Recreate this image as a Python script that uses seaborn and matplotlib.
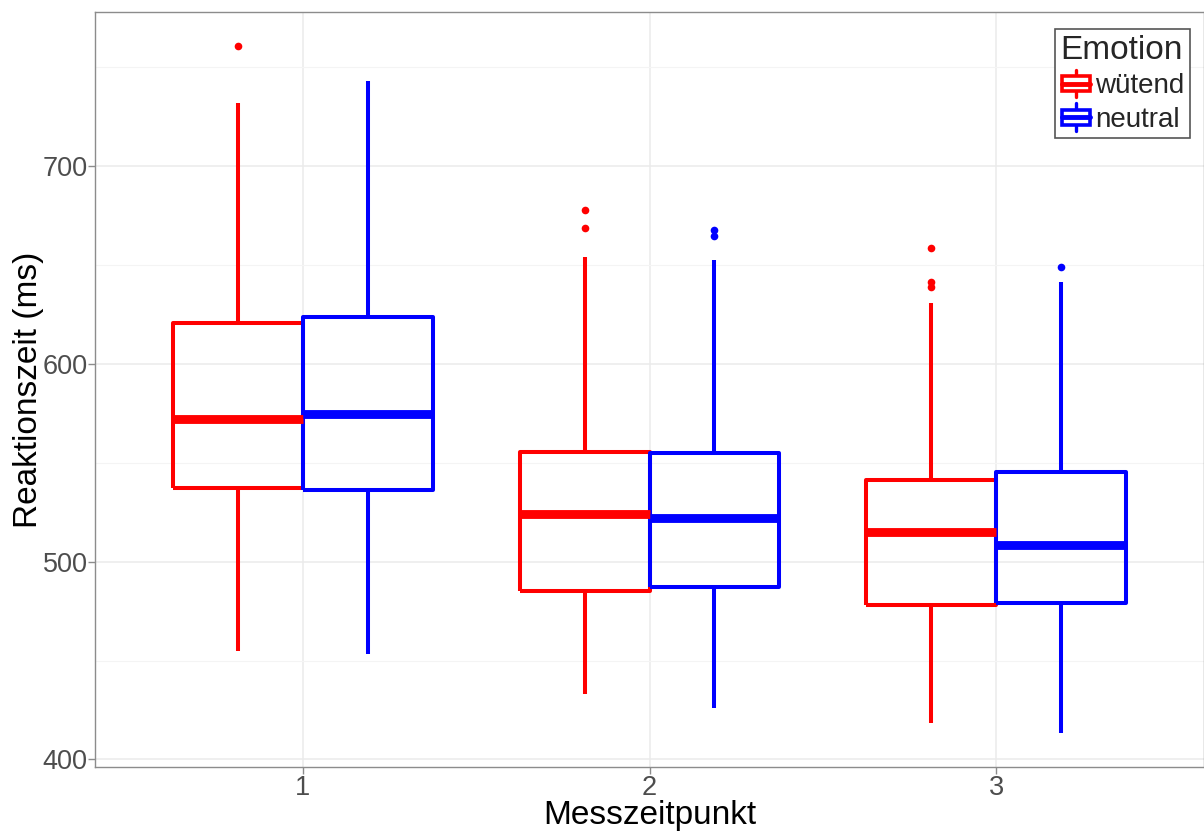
import numpy as np
import pandas as pd
import matplotlib
matplotlib.use("Agg")
import matplotlib.pyplot as plt
from matplotlib.lines import Line2D
from matplotlib.patches import Rectangle
from matplotlib.legend_handler import HandlerBase
import seaborn as sns

# ---- data (box-plot summaries, ms) ----
zeitpunkte = ["1", "2", "3"]
emotionen = ["wütend", "neutral"]

wuetend_lo = [454.7, 433.1, 418.6]
wuetend_q1 = [537.0, 485.3, 477.8]
wuetend_med = [572.1, 523.9, 514.9]
wuetend_q3 = [620.3, 555.5, 541.0]
wuetend_hi = [731.7, 653.9, 630.8]
wuetend_out = [[760.3], [668.4, 677.5], [638.8, 641.3, 658.4]]

neutral_lo = [453.2, 426.1, 413.5]
neutral_q1 = [536.0, 487.3, 478.8]
neutral_med = [574.6, 521.9, 508.4]
neutral_q3 = [623.3, 555.0, 545.0]
neutral_hi = [742.7, 652.4, 641.3]
neutral_out = [[], [664.4, 667.4], [648.9]]

farben = {"wütend": "#FF0000", "neutral": "#0000FF"}


def sample_from_summary(lo, q1, med, q3, hi, outs, k=5):
    """Observations whose linear-interpolated quartiles equal the summary."""
    m = len(outs)
    return [lo] * (1 + m) + [q1] * k + [med] + [q3] * k + [hi] + list(outs)


rows = []
summaries = {
    "wütend": (wuetend_lo, wuetend_q1, wuetend_med, wuetend_q3, wuetend_hi, wuetend_out),
    "neutral": (neutral_lo, neutral_q1, neutral_med, neutral_q3, neutral_hi, neutral_out),
}
for emo in emotionen:
    lo, q1, med, q3, hi, outs = summaries[emo]
    for i, zp in enumerate(zeitpunkte):
        for v in sample_from_summary(lo[i], q1[i], med[i], q3[i], hi[i], outs[i]):
            rows.append({"Messzeitpunkt": zp, "Emotion": emo, "RT": v})
df = pd.DataFrame(rows)

# ---- figure ----
sns.set_style("white")
plt.rcParams["font.family"] = ["Liberation Sans", "DejaVu Sans"]

fig = plt.figure(figsize=(12.04, 8.32), dpi=100)
ax = fig.add_axes([95 / 1204, 1 - 767 / 832, 1 - 95 / 1204, (767 - 12) / 832])

lw = 2.9
sns.boxplot(
    data=df, x="Messzeitpunkt", y="RT", hue="Emotion",
    order=zeitpunkte, hue_order=emotionen, palette=farben,
    fill=False, width=0.75, gap=0, linewidth=lw, showcaps=False,
    medianprops=dict(linewidth=lw * 2.2),
    flierprops=dict(marker="o", markersize=4.5),
    legend=False, ax=ax, zorder=3,
)
for ln in ax.lines:
    if ln.get_marker() == "o":
        ln.set_markerfacecolor(ln.get_markeredgecolor())
        ln.set_markeredgewidth(0)
        ln.set_markersize(5.5)
    ln.set_solid_capstyle("butt")
for p in ax.patches:
    p.set_joinstyle("round")

ax.set_xlim(-0.6, 2.6)
ax.set_ylim(396.2, 777.6)
ax.set_yticks([400, 500, 600, 700])
ax.set_yticks([450, 550, 650, 750], minor=True)
ax.grid(True, which="major", color="#EBEBEB", linewidth=1.1, zorder=0)
ax.grid(True, which="minor", axis="y", color="#F4F4F4", linewidth=0.8, zorder=0)
ax.set_axisbelow(True)

for s in ax.spines.values():
    s.set_color("#8C8C8C")
    s.set_linewidth(1.0)

ax.tick_params(axis="both", which="major", length=5, width=1, color="#8C8C8C",
               labelsize=19.5, labelcolor="#4D4D4D", pad=0.8, left=True, bottom=True)
ax.tick_params(axis="y", which="major", pad=0.2)
ax.tick_params(axis="both", which="minor", length=0)

ax.set_xlabel("Messzeitpunkt", fontsize=24, color="black", labelpad=-0.8)
ax.set_ylabel("Reaktionszeit (ms)", fontsize=24, color="black", labelpad=-1)


class BoxHandler(HandlerBase):
    def create_artists(self, legend, orig_handle, xdescent, ydescent,
                       width, height, fontsize, trans):
        c = orig_handle.get_color()
        cx = width / 2 - xdescent
        bw = width * 0.9
        bh = height * 0.6
        y0 = -ydescent + (height - bh) / 2
        wl = Line2D([cx, cx], [-ydescent - height * 0.05, -ydescent + height * 1.05],
                    color=c, linewidth=2.4, transform=trans)
        box = Rectangle((cx - bw / 2, y0), bw, bh, facecolor="white",
                        edgecolor=c, linewidth=2.6, transform=trans)
        med = Line2D([cx - bw / 2, cx + bw / 2], [y0 + bh / 2, y0 + bh / 2],
                     color=c, linewidth=3.5, transform=trans)
        return [wl, box, med]


handles = [Line2D([], [], color=farben[e]) for e in emotionen]
leg = ax.legend(handles, emotionen, title="Emotion", handler_map={Line2D: BoxHandler()},
                loc="upper right", bbox_to_anchor=(1190 / 1204, 1 - 29 / 832),
                bbox_transform=fig.transFigure, fontsize=20, title_fontsize=24,
                frameon=True, fancybox=False, edgecolor="#555555", framealpha=1,
                handlelength=1.1, handleheight=1.0, handletextpad=0.15,
                borderpad=0.2, labelspacing=0.2, borderaxespad=0)
leg.get_frame().set_linewidth(1.2)
leg._legend_box.align = "left"

fig.savefig("out.png", dpi=100)
